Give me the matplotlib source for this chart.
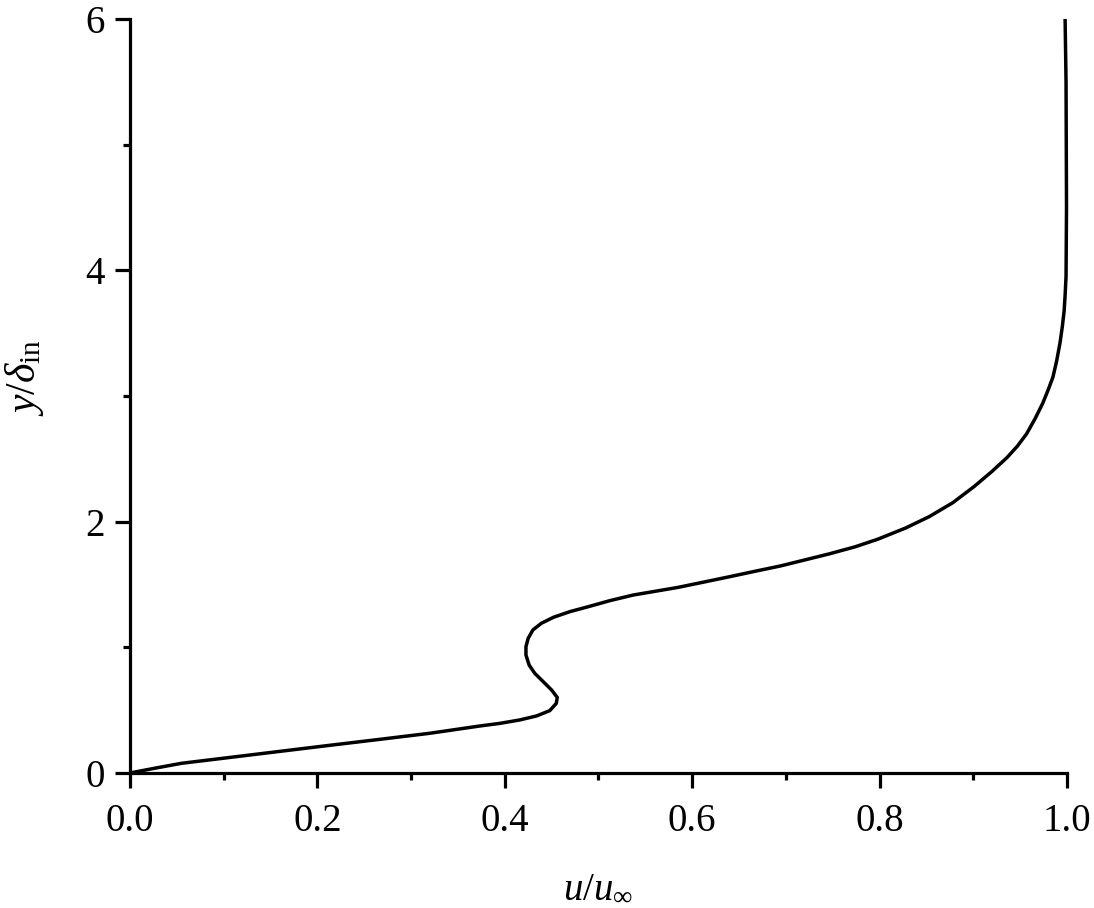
import numpy as np
import matplotlib
matplotlib.use("Agg")
import matplotlib.pyplot as plt
from matplotlib.ticker import MultipleLocator, FormatStrFormatter

plt.rcParams['font.family'] = ['Liberation Serif', 'DejaVu Serif']
plt.rcParams['mathtext.fontset'] = 'custom'
plt.rcParams['mathtext.rm'] = 'Liberation Serif'
plt.rcParams['mathtext.it'] = 'Liberation Serif:italic'

# velocity profile (y/delta_in, u/u_inf)
y_vals = [0.000, 0.040, 0.077, 0.124, 0.172, 0.220, 0.268, 0.316, 0.374, 0.395,
          0.422, 0.454, 0.496, 0.554, 0.601, 0.660, 0.727, 0.793, 0.859, 0.939,
          1.005, 1.072, 1.138, 1.191, 1.239, 1.284, 1.323, 1.371, 1.416, 1.477,
          1.520, 1.562, 1.605, 1.647, 1.695, 1.743, 1.800, 1.860, 1.950, 2.040,
          2.150, 2.280, 2.400, 2.510, 2.600, 2.700, 2.820, 2.940, 3.050, 3.150,
          3.280, 3.420, 3.550, 3.680, 3.800, 3.950, 4.500, 5.500, 6.000]
u_vals = [0.000, 0.028, 0.055, 0.107, 0.160, 0.213, 0.267, 0.320, 0.3735, 0.395,
          0.416, 0.434, 0.448, 0.455, 0.456, 0.450, 0.441, 0.432, 0.426, 0.4226,
          0.4226, 0.425, 0.430, 0.439, 0.452, 0.4696, 0.489, 0.512, 0.537, 0.585,
          0.613, 0.640, 0.667, 0.694, 0.720, 0.746, 0.774, 0.798, 0.828, 0.853,
          0.878, 0.901, 0.920, 0.936, 0.947, 0.957, 0.966, 0.974, 0.980, 0.985,
          0.989, 0.9925, 0.995, 0.997, 0.998, 0.999, 0.9995, 0.999, 0.998]

fig = plt.figure(figsize=(10.94, 9.08), dpi=100)
ax = fig.add_axes([0.1188, 0.1487, 0.9753 - 0.1188, 0.9791 - 0.1487])

ax.plot(u_vals, y_vals, color='black', lw=2.5, clip_on=False,
        solid_joinstyle='round', solid_capstyle='butt')

ax.set_xlim(0, 1.0)
ax.set_ylim(0, 6)
ax.spines['top'].set_visible(False)
ax.spines['right'].set_visible(False)
for s in ('left', 'bottom'):
    ax.spines[s].set_linewidth(2.3)

ax.xaxis.set_major_locator(MultipleLocator(0.2))
ax.xaxis.set_minor_locator(MultipleLocator(0.1))
ax.xaxis.set_major_formatter(FormatStrFormatter('%.1f'))
ax.yaxis.set_major_locator(MultipleLocator(2))
ax.yaxis.set_minor_locator(MultipleLocator(1))

ax.tick_params(which='major', direction='out', length=10.8, width=2.3, labelsize=28)
ax.tick_params(which='minor', direction='out', length=5, width=2.3)
ax.tick_params(axis='x', which='major', pad=11)
ax.tick_params(axis='y', which='major', pad=7)

ax.set_xlabel(r'$u/u_{\infty}$', fontsize=28)
ax.set_ylabel(r'$y/\delta_{\mathrm{in}}$', fontsize=30)
ax.xaxis.set_label_coords(0.5, -0.128)
ax.yaxis.set_label_coords(-0.09, 0.524)

fig.savefig('out.png', dpi=100)
